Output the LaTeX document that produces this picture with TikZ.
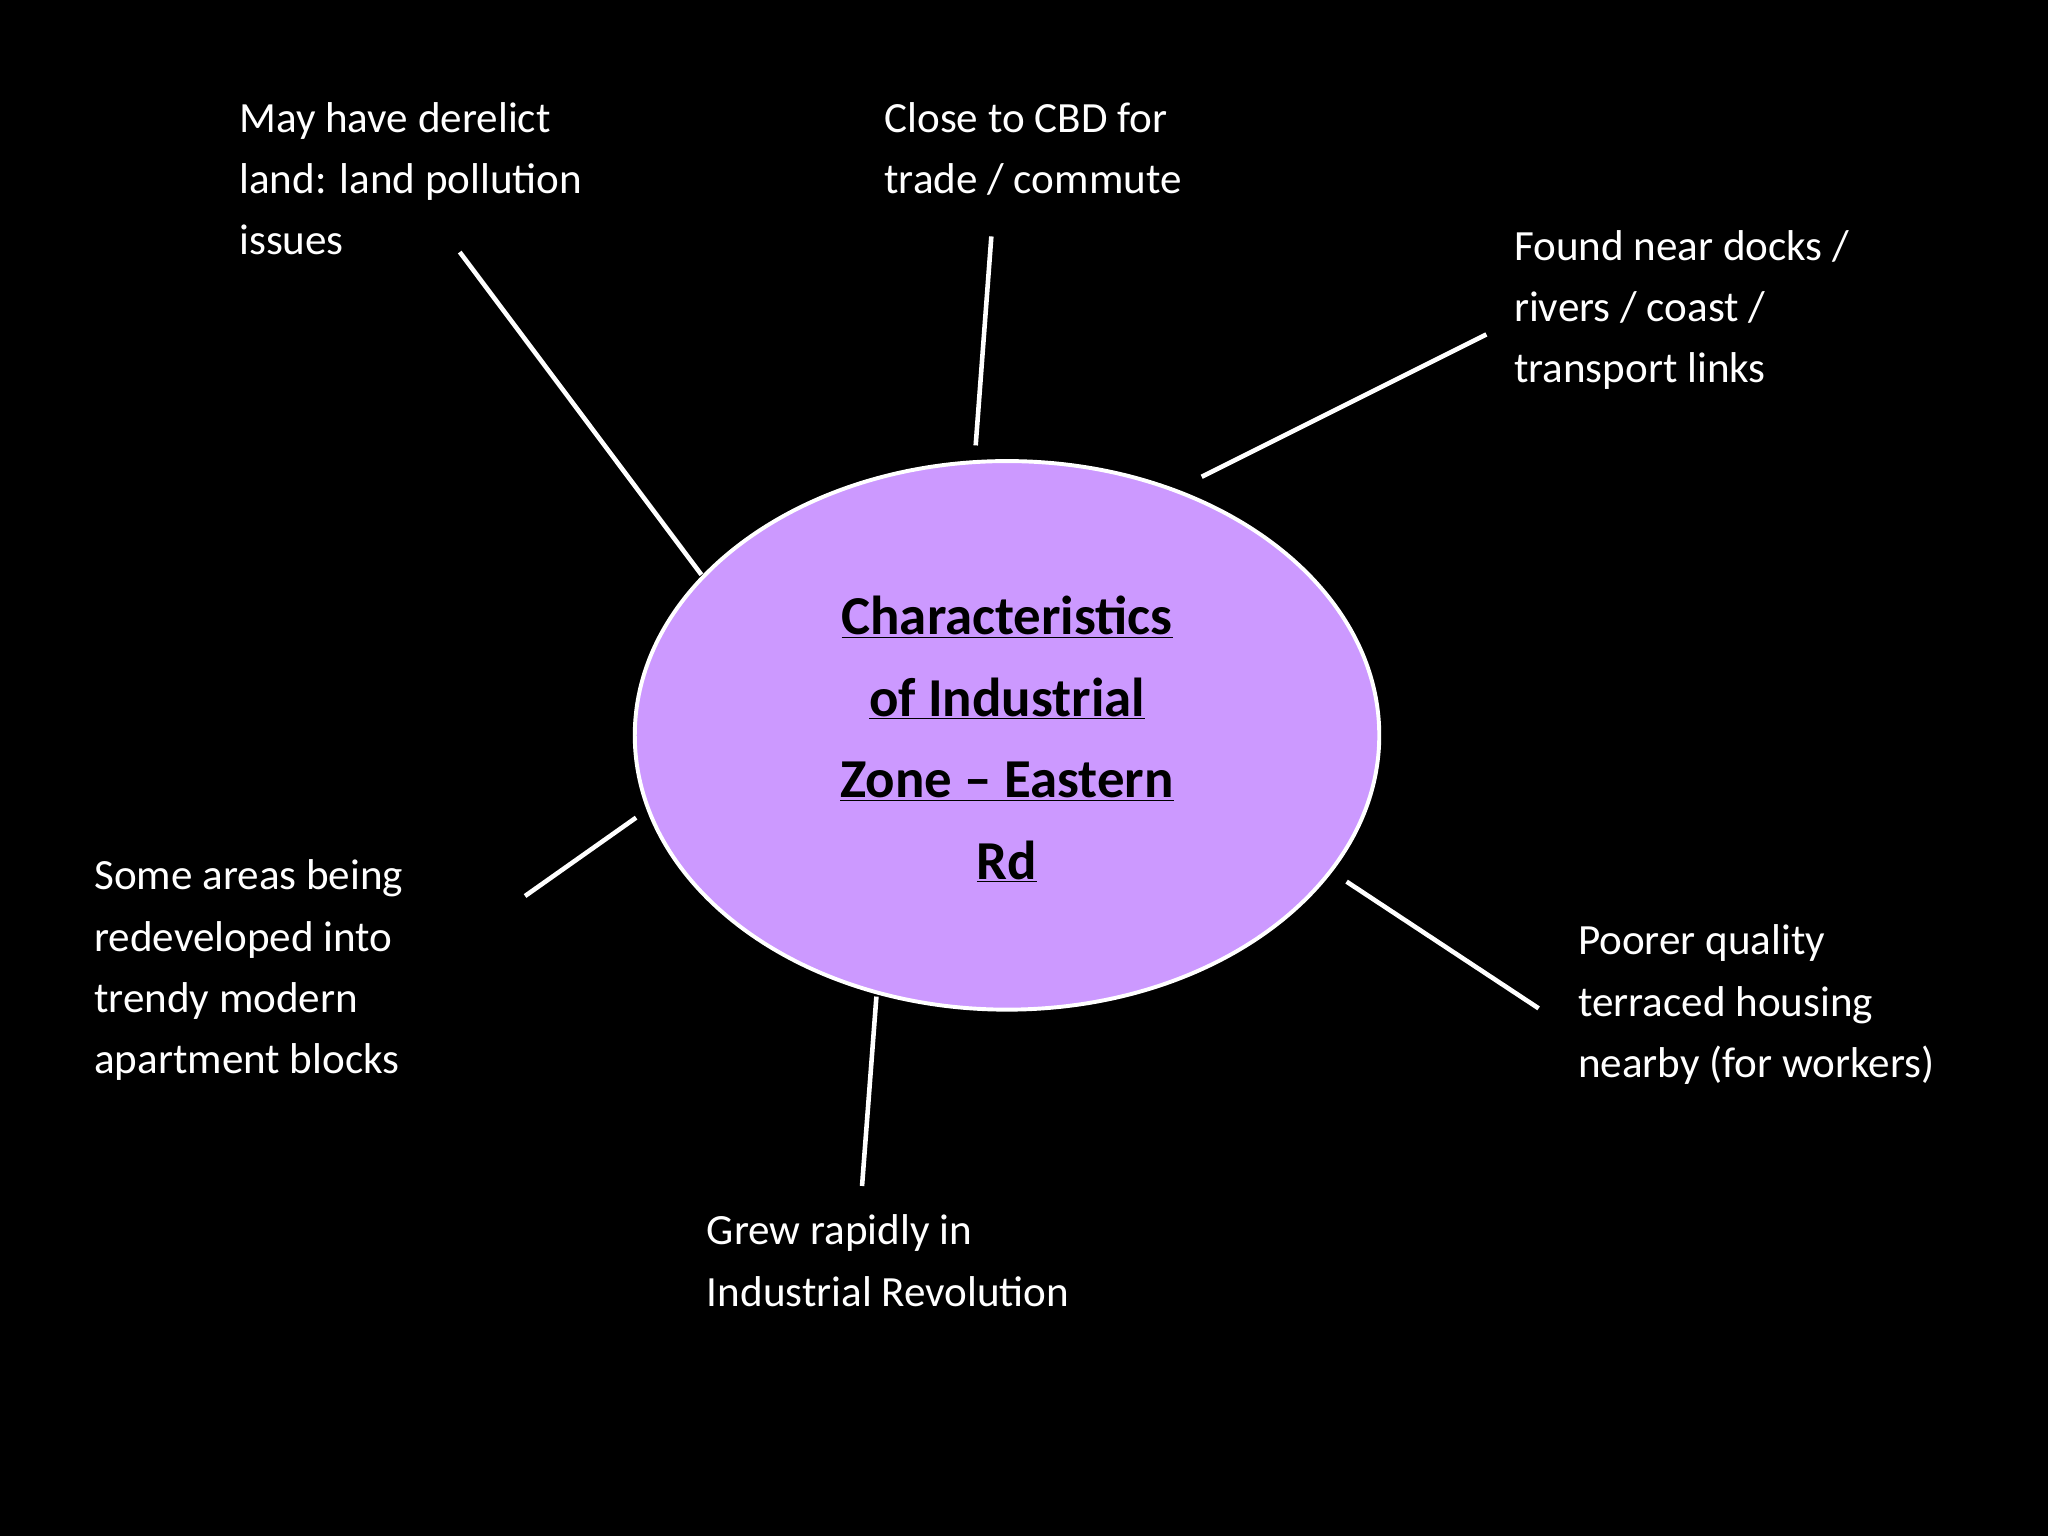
\documentclass[tikz,border=0pt]{standalone}
\usepackage{fontspec}
\usetikzlibrary{shapes.geometric}
\setmainfont{Carlito}
\begin{document}
\begin{tikzpicture}[x=1pt,y=-1pt,
  lbl/.style={text=white,anchor=north west,align=left,inner sep=0pt,font=\fontsize{33}{47}\selectfont},
  ln/.style={white,line width=3.5pt}]
\fill[black] (0,0) rectangle (1568,1176);
\useasboundingbox (0,0) rectangle (1568,1176);
\node[ellipse,draw=white,line width=3pt,fill={rgb,255:red,204;green,153;blue,255},minimum width=570,minimum height=420,inner sep=0pt] (c) at (771,563) {};
\node[align=center,inner sep=0pt,font=\fontsize{42}{62.5}\selectfont\bfseries] (t) at (771,566)
 {\underline{Characteristics}\\\underline{of Industrial}\\\underline{Zone -- Eastern}\\\underline{Rd}};
\node[lbl] (a) at (183,78) {May have derelict\\land: land pollution\\issues};
\node[lbl] (b) at (677,78) {Close to CBD for\\trade / commute};
\node[lbl] (d) at (1159,176) {Found near docks /\\rivers / coast /\\transport links};
\node[lbl] (e) at (72,658) {Some areas being\\redeveloped into\\trendy modern\\apartment blocks};
\node[lbl] (f) at (1208,708) {Poorer quality\\terraced housing\\nearby (for workers)};
\node[lbl] (g) at (541,930) {Grew rapidly in\\Industrial Revolution};
\coordinate (a1) at (352,193); \coordinate (a2) at (537,440);
\coordinate (b1) at (759,181); \coordinate (b2) at (747,341);
\coordinate (d1) at (1138,256); \coordinate (d2) at (920,365);
\coordinate (e1) at (487,626); \coordinate (e2) at (402,686);
\coordinate (g1) at (671,763); \coordinate (g2) at (660,908);
\coordinate (f1) at (1031,675); \coordinate (f2) at (1178,772);
\draw[ln] (a1)--(a2); \draw[ln] (b1)--(b2); \draw[ln] (d1)--(d2);
\draw[ln] (e1)--(e2); \draw[ln] (g1)--(g2); \draw[ln] (f1)--(f2);
\end{tikzpicture}
\end{document}
